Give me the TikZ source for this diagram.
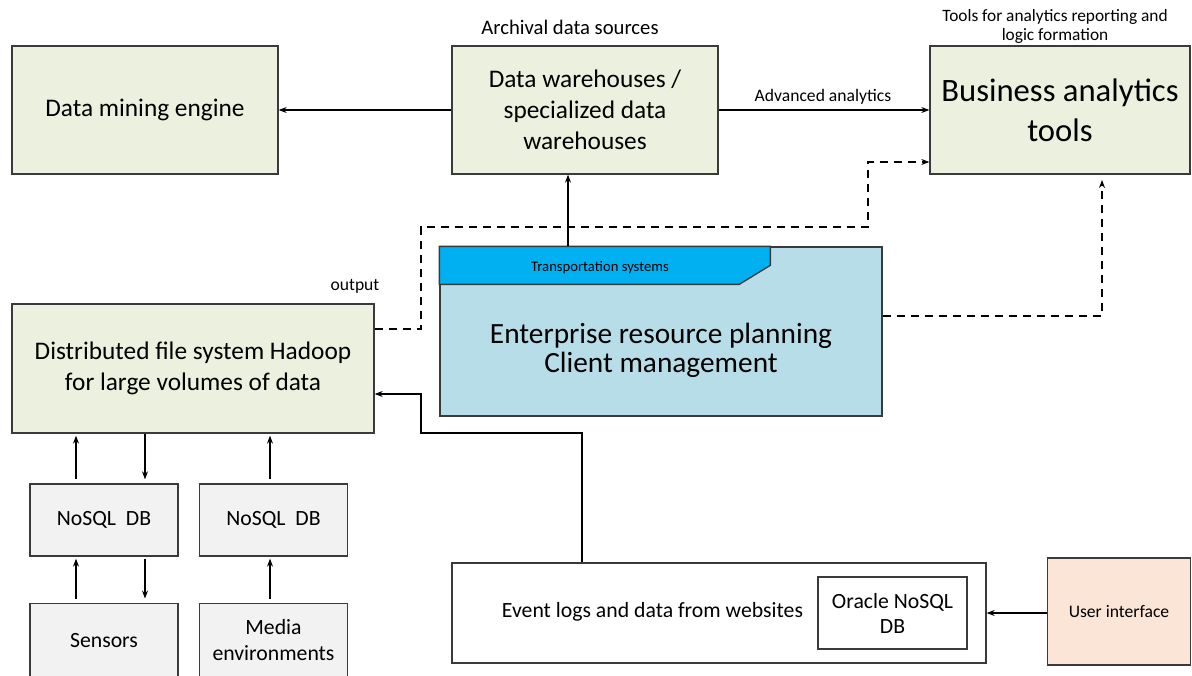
\documentclass[tikz,border=0pt]{standalone}
\usepackage{fontspec}
\setmainfont{Carlito}
\usetikzlibrary{arrows.meta,calc}

\definecolor{boxgreen}{HTML}{EBF1DE}
\definecolor{boxgray}{HTML}{F2F2F2}
\definecolor{erpblue}{HTML}{B7DEE8}
\definecolor{tabblue}{HTML}{00B0F0}
\definecolor{uipeach}{HTML}{FBE5D6}
\definecolor{edgegray}{HTML}{3A3A3A}

\newcommand\fszMain{\fontsize{19}{23.25}\selectfont}
\newcommand\fszBA{\fontsize{24.5}{30}\selectfont}
\newcommand\fszERP{\fontsize{22}{21.75}\selectfont}
\newcommand\fszMid{\fontsize{16.3}{19.5}\selectfont}
\newcommand\fszEvt{\fontsize{16.3}{18.75}\selectfont}
\newcommand\fszLbl{\fontsize{15.5}{18}\selectfont}
\newcommand\fszSmall{\fontsize{13.2}{15}\selectfont}
\newcommand\fszTools{\fontsize{13}{14.25}\selectfont}
\newcommand\fszTab{\fontsize{11}{13}\selectfont}

\tikzset{
  box/.style={draw=edgegray, line width=1pt, rectangle, align=center, inner sep=0pt},
  greenbox/.style={box, fill=boxgreen, font=\fszMain},
  graybox/.style={box, fill=boxgray, font=\fszMid, minimum width=111pt},
  arr/.style={-{Stealth[length=6pt,width=4.5pt]}, line width=0.8pt, black},
  dsh/.style={dash pattern=on 6.5pt off 4pt},
  lbl/.style={inner sep=0pt, align=center}
}

\begin{document}
\begin{tikzpicture}[x=0.75pt, y=-0.75pt]
\useasboundingbox (0,0) rectangle (1192,675);

% top row
\node[greenbox, minimum width=199.5pt, minimum height=96pt] (dme) at (145,110) {Data mining engine};
\node[greenbox, minimum width=199.5pt, minimum height=96pt] (dw) at (585,110) {Data warehouses /\\specialized data\\warehouses};
\node[greenbox, font=\fszBA, minimum width=195pt, minimum height=96pt] (ba) at (1060,110) {Business analytics\\tools};

\node[lbl, font=\fszLbl] (archlbl) at (570,27) {Archival data sources};
\node[lbl, font=\fszTools] (toolslbl) at (1055,26.5) {Tools for analytics reporting and\\logic formation};
\node[lbl, font=\fszSmall] (advlbl) at (823,97) {Advanced analytics};

% Hadoop storage
\node[greenbox, minimum width=271.5pt, minimum height=96.75pt] (hadoop) at (193,368.5) {Distributed file system Hadoop\\for large volumes of data};
\node[lbl, font=\fszSmall] (outlbl) at (355,286) {output};

% ERP block with its tab
\node[box, fill=erpblue, minimum width=331.5pt, minimum height=126.75pt] (erp) at (661,331.5) {};
\filldraw[fill=tabblue, draw=edgegray, line width=1pt]
  (erp.north west) -- ($(erp.north west)+(331,0)$) -- ($(erp.north west)+(331,19)$)
  -- ($(erp.north west)+(300,38)$) -- ($(erp.north west)+(0,38)$) -- cycle;
\draw[edgegray, line width=1pt] (erp.north west) rectangle (erp.south east);
\node[lbl, font=\fszTab] (tablbl) at (600,268) {Transportation systems};
\node[lbl, font=\fszERP] (erptext) at (661,350) {Enterprise resource planning\\Client management};

% sources below Hadoop
\node[graybox, minimum height=54pt] (nosqlA) at (104,520) {NoSQL\ \ DB};
\node[graybox, minimum height=54pt] (nosqlB) at (273.5,520) {NoSQL\ \ DB};
\node[graybox, minimum height=56pt] (sensors) at (104,640.5) {Sensors};
\node[graybox, minimum height=56pt] (media) at (273.5,640.5) {Media\\environments};

% web event logs
\node[box, fill=white, minimum width=400.5pt, minimum height=75pt] (event) at (719,613) {};
\node[lbl, font=\fszEvt] (evtext) at (652.5,612) {Event logs and data from websites};
\node[box, fill=white, font=\fszEvt, minimum width=111.75pt, minimum height=54pt] (oracle) at (892.5,613) {Oracle NoSQL\\DB};
\node[box, fill=uipeach, font=\fszSmall, minimum width=107.25pt, minimum height=80.25pt] (ui) at (1119,611.5) {User interface};

% connectors
\draw[arr] (dw.west) -- (dme.east);
\draw[arr] (dw.east) -- (ba.west);
\draw[arr] (erp.north -| 568,0) -- (dw.south -| 568,0);

\draw[arr, dsh] (hadoop.east |- 0,329) -- (421,329) -- (421,227) -- (868,227)
  -- (868,162) -- (ba.west |- 0,162);
\draw[arr, dsh] (erp.east |- 0,316) -- (1102,316) -- ([yshift=-4pt]ba.south -| 1102,0);

\draw[arr] (event.north -| 582,0) -- (582,433) -- (421,433) -- (421,394) -- (hadoop.east |- 0,394);
\draw[arr] (ui.west |- 0,613) -- (event.east |- 0,613);

\draw[arr] ([yshift=3pt]nosqlA.north -| 76,0) -- ([yshift=-1.5pt]hadoop.south -| 76,0);
\draw[arr] (hadoop.south -| 145,0) -- ([yshift=3pt]nosqlA.north -| 145,0);
\draw[arr] ([yshift=3pt]nosqlB.north -| 270,0) -- ([yshift=-1.5pt]hadoop.south -| 270,0);

\draw[arr] ([yshift=3pt]sensors.north -| 76,0) -- ([yshift=-1.5pt]nosqlA.south -| 76,0);
\draw[arr] ([yshift=-1.5pt]nosqlA.south -| 145,0) -- ([yshift=3pt]sensors.north -| 145,0);
\draw[arr] ([yshift=3pt]media.north -| 270,0) -- ([yshift=-1.5pt]nosqlB.south -| 270,0);
\end{tikzpicture}
\end{document}
